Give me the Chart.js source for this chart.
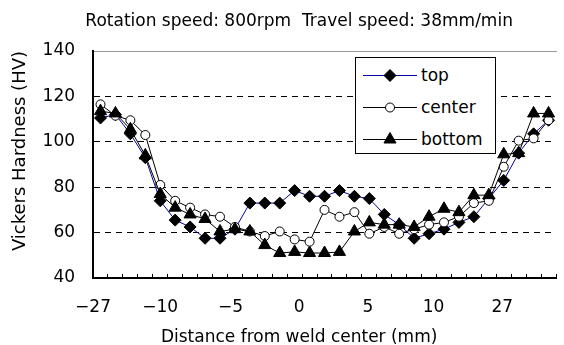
<!DOCTYPE html>
<html>
<head>
<meta charset="utf-8">
<script src="https://cdn.jsdelivr.net/npm/chart.js@4.4.1/dist/chart.umd.min.js"></script>
<style>
  html, body { margin: 0; padding: 0; background: #fff; }
  #wrap { position: relative; width: 564px; height: 345px; }
  #chart { display: block; }
  #legend { position: absolute; left: 355px; top: 57px; width: 139px; height: 95px;
            border: 1px solid #000; background: #fff; font: 17px "DejaVu Sans"; color: #000; }
  .item { position: absolute; left: 0; width: 139px; height: 20px; }
  .item canvas { position: absolute; left: 7px; top: 0; }
  .item span { position: absolute; left: 65px; top: 0; line-height: 20px; white-space: nowrap; }
</style>
</head>
<body>
<div id="wrap">
  <canvas id="chart" width="564" height="345"></canvas>
  <div id="legend"></div>
</div>
<script>
var pointNo = [1, 2, 3, 4, 5, 6, 7, 8, 9, 10, 11, 12, 13, 14, 15, 16,
               17, 18, 19, 20, 21, 22, 23, 24, 25, 26, 27, 28, 29, 30, 31];
var topHV = [110.5, 112, 103.5, 93, 74, 65.5, 62.5, 57.5, 57.5, 61.5, 73, 73, 73, 78.5, 76, 76,
             78.5, 76, 75, 68, 63.5, 57.5, 59.5, 61.5, 64.5, 67, 75, 83, 95, 103.5, 109.5];
var centerHV = [116.5, 111.5, 109.5, 103, 81, 74, 71, 68, 67, 62.5, 60.5, 58.5, 60.5, 57, 56, 70,
                67, 69, 59.5, 62.5, 59.5, 61.5, 63.5, 64.5, 67, 73, 74, 89, 100.5, 101.5, 109.5];
var bottomHV = [113.5, 112.5, 105.5, 94, 77, 71, 68, 66, 60.5, 61.5, 60.5, 54.5, 51, 51.5, 51, 51,
                51.5, 60.5, 64.5, 63.5, 63.5, 62.5, 67, 70.5, 69, 76.5, 76.5, 94.5, 95, 112.5, 112.5];

// distance labels as printed under the axis, and where they sit along the points
var tickLabels = ['\u221227', '\u221210', '\u22125', '0', '5', '10', '27'];
var tickAt = [0.5, 5.0, 9.7, 14.3, 18.9, 23.3, 27.9];

var titleText = 'Rotation speed: 800rpm  Travel speed: 38mm/min';
var xTitle = 'Distance from weld center (mm)';
var yTitle = 'Vickers Hardness (HV)';

var font = { family: 'DejaVu Sans', size: 17, lineHeight: 1 };
var xMin = pointNo[0] - 0.5;
var xMax = pointNo[pointNo.length - 1] + 0.5;

function series(values) {
  return values.map(function (v, i) { return { x: pointNo[i], y: v }; });
}

// a text-only axis sharing the point scale, used to place labels under/over the plot
function textAxis(position, weight, padding, values, labelFor, tickFont) {
  return {
    type: 'linear', position: position, weight: weight, min: xMin, max: xMax,
    afterBuildTicks: function (scale) {
      scale.ticks = values.map(function (v) { return { value: v }; });
    },
    ticks: { autoSkip: false, maxRotation: 0, minRotation: 0, padding: padding,
             color: '#000', font: tickFont || font, callback: labelFor },
    grid: { display: false, drawTicks: false },
    border: { display: false }
  };
}

var xTop = textAxis('top', 0, 20.5, [tickAt[3]], function () { return titleText; });
xTop.border = { display: true, color: '#9a9a9a', width: 1 };

// distance labels, with the axis name as a second line under the "0"
var xLabels = textAxis('bottom', 1, 19, tickAt, function (value) {
  var k = tickAt.indexOf(value);
  if (k < 0) return '';
  return value === tickAt[3] ? [tickLabels[k], xTitle] : tickLabels[k];
}, { family: 'DejaVu Sans', size: 17, lineHeight: '30px' });

var chart = new Chart(document.getElementById('chart'), {
  type: 'line',
  data: {
    datasets: [
      { label: 'top', data: series(topHV), borderColor: '#0000a0', borderWidth: 1,
        pointStyle: 'rectRot', pointRadius: 6, pointBackgroundColor: '#000',
        pointBorderColor: '#000', pointBorderWidth: 1, order: 3 },
      { label: 'center', data: series(centerHV), borderColor: '#000', borderWidth: 1,
        pointStyle: 'circle', pointRadius: 4.5, pointBackgroundColor: '#fff',
        pointBorderColor: '#000', pointBorderWidth: 1, order: 2 },
      { label: 'bottom', data: series(bottomHV), borderColor: '#000', borderWidth: 1,
        pointStyle: 'triangle', pointRadius: 7, pointBackgroundColor: '#000',
        pointBorderColor: '#000', pointBorderWidth: 1, order: 1 }
    ]
  },
  options: {
    responsive: false,
    animation: false,
    devicePixelRatio: 1,
    layout: { padding: { top: -7, bottom: -31, left: 0, right: 0 } },
    plugins: { legend: { display: false }, tooltip: { enabled: false } },
    scales: {
      x: {
        type: 'linear', position: 'bottom', weight: 0, min: xMin, max: xMax,
        afterBuildTicks: function (scale) {
          var vals = pointNo.map(function (p) { return p - 0.5; }).concat([xMax]);
          scale.ticks = vals.map(function (v) { return { value: v }; });
        },
        ticks: { display: false },
        grid: { drawOnChartArea: false, drawTicks: true, tickLength: -4, tickWidth: 1, tickColor: '#000' },
        border: { display: true, color: '#000', width: 2 }
      },
      xLabels: xLabels,
      xTop: xTop,
      y: {
        min: 40, max: 140,
        ticks: { stepSize: 20, padding: 18, color: '#000', font: font },
        grid: {
          drawTicks: false, lineWidth: 1,
          color: function (c) {
            var v = c.tick ? c.tick.value : 0;
            return (v === 40 || v === 140) ? 'rgba(0,0,0,0)' : '#000';
          }
        },
        border: { display: true, color: '#000', width: 2, dash: [6, 5] },
        title: { display: true, text: yTitle, color: '#000', align: 'end',
                 font: { family: 'DejaVu Sans', size: 18 }, padding: { top: 10, bottom: -7 } }
      }
    }
  }
});

// legend with line + marker samples, built from the datasets
var legendEl = document.getElementById('legend');
chart.data.datasets.forEach(function (ds, i) {
  var row = document.createElement('div');
  row.className = 'item';
  row.style.top = (6.5 + i * 32) + 'px';
  var c = document.createElement('canvas');
  c.width = 54;
  c.height = 20;
  var g = c.getContext('2d');
  g.strokeStyle = ds.borderColor;
  g.lineWidth = ds.borderWidth;
  g.beginPath();
  g.moveTo(0, 10.5);
  g.lineTo(54, 10.5);
  g.stroke();
  g.fillStyle = ds.pointBackgroundColor;
  g.strokeStyle = ds.pointBorderColor;
  g.lineWidth = ds.pointBorderWidth;
  Chart.helpers.drawPoint(g, { pointStyle: ds.pointStyle, radius: ds.pointRadius,
                               borderWidth: ds.pointBorderWidth, rotation: 0 }, 27, 10.5);
  var t = document.createElement('span');
  t.textContent = ds.label;
  row.appendChild(c);
  row.appendChild(t);
  legendEl.appendChild(row);
});
</script>
</body>
</html>
